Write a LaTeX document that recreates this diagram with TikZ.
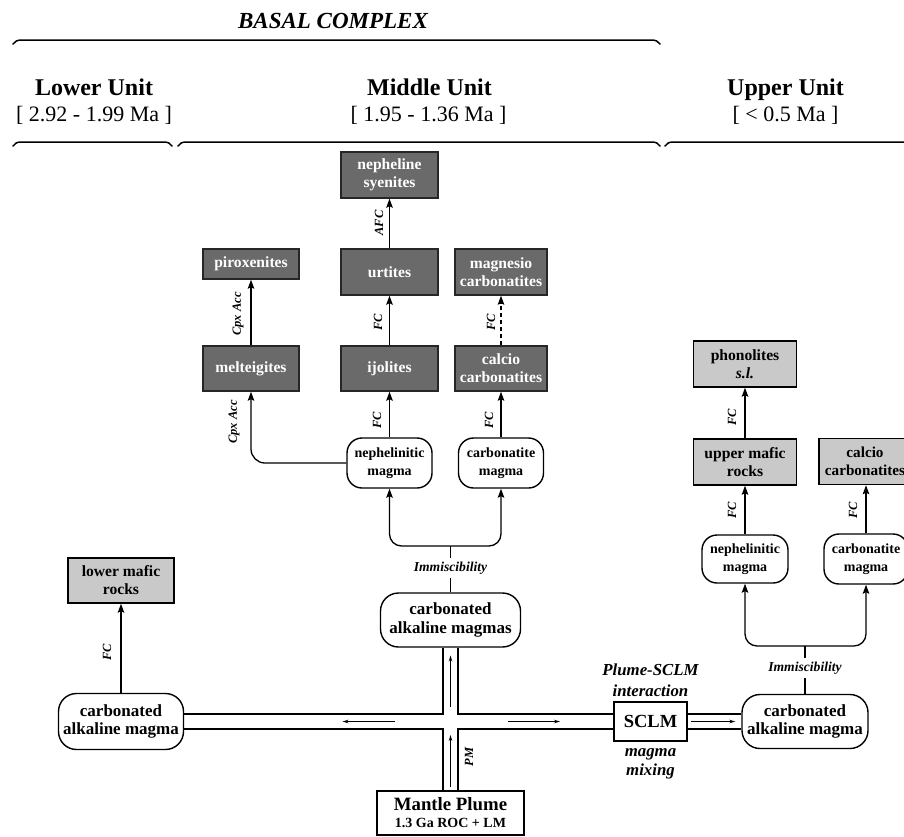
\documentclass[tikz,border=0pt]{standalone}
\usepackage{fontspec}
\setmainfont{Liberation Serif}
\usetikzlibrary{arrows.meta}

\definecolor{rockdark}{HTML}{6A6A6A}
\definecolor{rocklight}{HTML}{C9C9C9}

\begin{document}
\begin{tikzpicture}[x=1pt,y=-1pt,line width=1.4pt,
  rock/.style={draw,fill=rocklight,align=center,inner sep=2pt,minimum width=97pt,minimum height=46pt,font=\fontsize{15.6}{18}\selectfont\bfseries},
  rockd/.style={rock,fill=rockdark,text=white,draw=black!85},
  magma/.style={draw,fill=white,rounded corners=15pt,align=center,inner sep=2pt,minimum width=85pt,minimum height=50pt,font=\fontsize{14}{18}\selectfont\bfseries},
  bigmagma/.style={magma,rounded corners=18pt,font=\fontsize{17}{18.5}\selectfont\bfseries},
  proc/.style={rotate=90,inner sep=1pt,font=\fontsize{12.5}{14}\selectfont\bfseries\itshape},
  lbl/.style={fill=white,inner sep=3pt,font=\fontsize{13.6}{16}\selectfont\bfseries\itshape},
  arr/.style={-{Stealth[length=9pt,width=6.5pt,inset=1.5pt]},line width=1.3pt},
  flow/.style={-{Stealth[length=6pt,width=3.5pt]},line width=0.9pt},
  brace/.style={line width=1.5pt,line cap=round}]
\useasboundingbox (0,0) rectangle (904,836);
\clip (0,0) rectangle (904,836);

% header
\node[anchor=base,font=\fontsize{23}{26}\selectfont\bfseries\itshape] (basal) at (333,28) {BASAL COMPLEX};
\draw[brace] (13,44) .. controls (15,41) and (17,40) .. (23,40) -- (650,40) .. controls (656,40) and (658,41) .. (660,44);
\node[anchor=base,font=\fontsize{24}{26}\selectfont\bfseries] (lowu) at (94,95) {Lower Unit};
\node[anchor=base,font=\fontsize{22}{24}\selectfont] (lowa) at (94,121) {[ 2.92 - 1.99 Ma ]};
\node[anchor=base,font=\fontsize{24}{26}\selectfont\bfseries] (midu) at (429.5,95) {Middle Unit};
\node[anchor=base,font=\fontsize{22}{24}\selectfont] (mida) at (428.5,121) {[ 1.95 - 1.36 Ma ]};
\node[anchor=base,font=\fontsize{24}{26}\selectfont\bfseries] (uppu) at (785.5,95) {Upper Unit};
\node[anchor=base,font=\fontsize{22}{24}\selectfont] (uppa) at (785.5,121) {[ < 0.5 Ma ]};
\draw[brace] (13,146) .. controls (15,143) and (17,142) .. (22,142) -- (163,142) .. controls (168,142) and (170,143) .. (172,146);
\draw[brace] (178,146) .. controls (180,143) and (182,142) .. (187,142) -- (651,142) .. controls (656,142) and (658,143) .. (660,146);
\draw[brace] (665,146) .. controls (667,143) and (669,142) .. (674,142) -- (910,142);

% middle unit
\node[rockd] (syen) at (389.5,175) {nepheline\\syenites};
\node[rockd] (urt) at (389.5,272) {urtites};
\node[rockd,minimum width=96pt,minimum height=30pt] (pirox) at (251,264) {piroxenites};
\node[rockd,minimum width=96pt,minimum height=45pt] (melt) at (251,368.5) {melteigites};
\node[rockd,minimum height=45pt] (ijol) at (389.5,368.5) {ijolites};
\node[rockd,minimum width=92pt] (mgcarb) at (501,272) {magnesio\\carbonatites};
\node[rockd,minimum width=92pt,minimum height=45pt] (cacarb) at (501,368.5) {calcio\\carbonatites};
\node[magma] (nephm) at (389.5,463) {nephelinitic\\magma};
\node[magma] (carbm) at (501,463) {carbonatite\\magma};
\node[bigmagma,minimum width=140pt,minimum height=54pt] (cam) at (450.5,620) {carbonated\\alkaline magmas};
\node[lbl] (imm) at (450.5,568) {Immiscibility};
\coordinate (split) at (450.5,546);

\draw[arr] (urt) -- (syen);
\draw[arr] (ijol) -- (urt);
\draw[arr] (melt) -- (pirox);
\draw[arr,dash pattern=on 4pt off 3pt] (cacarb) -- (mgcarb);
\draw[arr] (nephm) -- (ijol);
\draw[arr] (carbm) -- (cacarb);
\draw[arr,rounded corners=14pt] (nephm.west) -| (melt.south);
\draw (cam) -- (imm);
\draw (imm) -- (split);
\draw[arr,rounded corners=12pt] (split) -| (nephm.south);
\draw[arr,rounded corners=12pt] (split) -| (carbm.south);

\node[proc] (lafc) at (379,223) {AFC};
\node[proc] (lfc1) at (378,322) {FC};
\node[proc] (lcpx1) at (238,314) {Cpx Acc};
\node[proc] (lfc2) at (491,322) {FC};
\node[proc] (lcpx2) at (234,422) {Cpx Acc};
\node[proc] (lfc3) at (377,420) {FC};
\node[proc] (lfc4) at (489,420) {FC};

% lower unit
\node[rock,minimum width=106pt,minimum height=45pt] (lmr) at (121,580.5) {lower mafic\\rocks};
\node[bigmagma,minimum width=125pt,minimum height=56pt] (cal) at (121,721.5) {carbonated\\alkaline magma};
\draw[arr] (cal) -- (lmr);
\node[proc] (lfc5) at (107,652) {FC};

% plume and pipes
\node[draw,fill=white,minimum width=147pt,minimum height=44pt,inner sep=1pt,align=center,font=\fontsize{14}{17}\selectfont\bfseries] (plume) at (450.5,813) {{\fontsize{18.8}{20}\selectfont Mantle Plume}\\1.3 Ga ROC + LM};
\node[draw,fill=white,minimum width=73pt,minimum height=39pt,font=\fontsize{18.5}{20}\selectfont\bfseries] (sclm) at (650.5,721.5) {SCLM};
\node[align=center,font=\fontsize{16.8}{21}\selectfont\bfseries\itshape] (inter) at (650.5,680) {Plume-SCLM\\interaction};
\node[align=center,font=\fontsize{16.8}{19}\selectfont\bfseries\itshape] (mix) at (650.5,764) {magma\\mixing};
\coordinate (hub) at (450.5,721.5);

\draw ([xshift=-7.5pt]cam.south) |- ([yshift=7.5pt]cal.east);
\draw ([xshift=7.5pt]cam.south) |- ([yshift=7.5pt]sclm.west);
\draw ([xshift=-7.5pt]plume.north) |- ([yshift=-7.5pt]cal.east);
\draw ([xshift=7.5pt]plume.north) |- ([yshift=-7.5pt]sclm.west);
\draw[flow] ([yshift=14.5pt]hub) -- ([yshift=66pt]hub);
\draw[flow] ([yshift=-65.5pt]hub) -- ([yshift=-13.5pt]hub);
\draw[flow] ([xshift=-56pt]hub) -- ([xshift=-108pt]hub);
\draw[flow] ([xshift=57.5pt]hub) -- ([xshift=109.5pt]hub);
\node[proc] (lpm) at (469,757) {PM};

% upper unit
\node[bigmagma,minimum width=126pt,minimum height=54pt] (carbR) at (805,721.5) {carbonated\\alkaline magma};
\draw ([yshift=7.5pt]sclm.east) -- ([yshift=7.5pt]carbR.west);
\draw ([yshift=-7.5pt]sclm.east) -- ([yshift=-7.5pt]carbR.west);
\draw[flow,line width=1.3pt] ([xshift=3pt]sclm.east) -- ([xshift=-6pt]carbR.west);
\node[magma,minimum width=86pt,minimum height=48pt] (nephR) at (745,559) {nephelinitic\\magma};
\node[magma,minimum width=84pt] (carbmR) at (866,559) {carbonatite\\magma};
\node[rock,minimum width=103pt] (umr) at (745,462) {upper mafic\\rocks};
\node[rock,minimum width=103pt] (phon) at (745,364) {phonolites\\\textit{s.l.}};
\node[rock,minimum width=92pt,font=\fontsize{15.2}{18}\selectfont\bfseries] (cacarbR) at (865,461.5) {calcio\\carbonatites};
\node[lbl] (immR) at (805,668) {Immiscibility};
\coordinate (splitR) at (805,646);

\draw (carbR) -- (immR);
\draw (immR) -- (splitR);
\draw[arr,rounded corners=12pt] (splitR) -| (nephR.south);
\draw[arr,rounded corners=12pt] (splitR) -| (carbmR.south);
\draw[arr] (nephR) -- (umr);
\draw[arr] (umr) -- (phon);
\draw[arr] (carbmR) -- (cacarbR.south -| carbmR);
\node[proc] (lfc6) at (732,417) {FC};
\node[proc] (lfc7) at (732,510) {FC};
\node[proc] (lfc8) at (853,510) {FC};
\end{tikzpicture}
\end{document}
